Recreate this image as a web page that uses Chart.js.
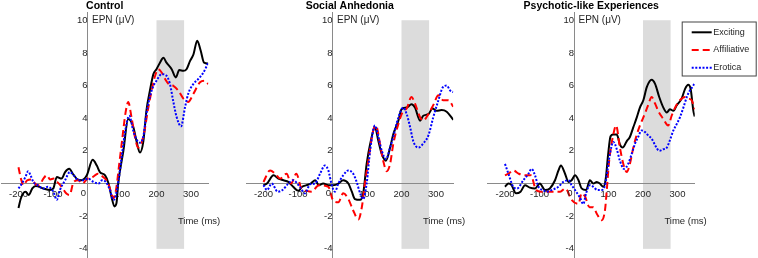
<!DOCTYPE html>
<html><head><meta charset="utf-8">
<script src="https://cdn.jsdelivr.net/npm/chart.js@4.4.1/dist/chart.umd.min.js"></script>
<style>
html,body{margin:0;padding:0;background:#fff;width:758px;height:258px;overflow:hidden}
body{position:relative}
canvas{position:absolute;top:0}
</style></head><body>
<canvas id="c1" width="245" height="258" style="left:0px"></canvas>
<canvas id="c2" width="242" height="258" style="left:245px"></canvas>
<canvas id="c3" width="271" height="258" style="left:487px"></canvas>
<script>
const panelTitles = ['Control', 'Social Anhedonia', 'Psychotic-like Experiences'];
const seriesNames = ['Exciting', 'Affiliative', 'Erotica'];
const xTicks = [-200, -100, 0, 100, 200, 300];
const yTicks = [-4, -2, 0, 2, 4, 6, 8, 10];
const windowMs = [200, 280];
const windowUv = [-4, 10];
const yLabel = 'EPN (μV)';
const xLabel = 'Time (ms)';

// ---- Control ----
const ctrlExcT = [-200,-193,-180,-170,-160,-150,-128,-109,-99,-89,-75,-65,-53,-41,-29,-17,-2,15,27,36,51,61,70,78,84,89,104,118,133,142,152,162,171,181,191,200,210,220,229,244,256,266,278,287,297,307,318,328,338,350];
const ctrlExcV = [-1.5,-0.9,-0.5,-0.7,-0.3,-0.15,-0.3,-0.4,-0.3,0.4,0.3,0.7,0.9,0.55,0.25,0.2,0.5,1.45,1.1,0.7,0.5,0,-0.85,-1.4,-1.2,0,2,3.95,3.45,2.6,1.9,2.6,4.5,5.7,6.7,7.0,7.4,7.7,7.4,7.0,6.5,6.95,6.9,7.0,7.5,7.9,8.75,8.15,7.4,7.35];
const ctrlAffT = [-200,-193,-186,-175,-162,-150,-140,-128,-118,-108,-98,-88,-75,-62,-52,-40,-27,-15,0,15,30,45,58,68,76,84,92,100,110,118,128,138,147,155,165,175,186,196,205,215,225,235,248,263,278,292,307,326,340,350];
const ctrlAffV = [1.0,0.3,-0.1,0.2,0.25,-0.05,-0.1,0.3,0.5,0.25,0.3,0.1,-0.2,-0.6,-0.7,0.1,0.2,0.0,0.3,0.4,0.6,0.4,0.1,-0.5,-0.9,-0.2,1.2,2.6,4.3,5.0,4.0,2.8,2.2,2.4,3.2,4.5,5.7,6.6,7.0,6.8,6.4,6.1,6.0,5.7,5.2,5.0,5.5,6.2,6.3,6.1];
const ctrlEroT = [-200,-190,-180,-172,-165,-157,-145,-128,-115,-99,-89,-80,-65,-51,-40,-26,-12,2,17,32,42,53,65,75,80,90,100,110,121,133,142,152,162,171,186,200,215,229,239,248,258,271,283,292,307,321,336,350];
const ctrlEroV = [-0.3,0.0,0.4,0.75,0.5,0.1,-0.1,-0.3,-0.2,-0.5,-1.0,-0.4,0.2,0.7,0.5,0.2,0.2,0.3,0.1,0.0,0.2,0.1,-0.4,-1.0,-0.9,0.2,1.8,3.3,4.15,3.2,2.7,2.5,2.9,4.3,5.7,6.3,6.7,6.6,6.1,5.1,4.1,3.5,4.7,5.5,6.1,6.4,6.8,7.4];

// ---- Social Anhedonia ----
const saExcT = [-200,-190,-171,-157,-142,-128,-114,-99,-88,-75,-63,-50,-40,-27,-12,2,17,31,46,56,65,80,89,99,109,123,133,143,155,167,176,191,200,215,229,239,254,263,278,290,302,316,331,345,350];
const saExcV = [-0.1,0.0,0.5,0.3,0.2,0.1,-0.2,-0.45,-0.2,-0.1,0.0,0.2,-0.1,0.0,-0.1,-0.1,0.0,0.2,0.0,-0.5,-0.95,-1.0,-0.6,1.2,2.4,3.45,2.6,1.8,1.4,2.2,3.0,3.85,4.55,4.65,4.85,4.65,3.85,4.15,4.25,4.6,4.45,4.5,4.4,4.05,3.9];
const saAffT = [-200,-181,-166,-152,-133,-120,-105,-90,-75,-60,-40,-12,2,17,31,46,60,75,85,94,104,118,126,138,147,157,167,176,191,205,215,229,239,254,263,278,292,307,321,336,350];
const saAffV = [0.1,0.8,0.6,0.3,0.6,0.0,0.6,-0.3,-0.45,-0.5,-0.1,-0.2,-1.05,-1.15,-0.6,-0.95,-1.65,-2.2,-1.45,0.0,1.4,3.25,3.55,2.4,1.4,0.75,1.2,2.4,3.65,4.45,4.6,5.3,4.9,4.05,3.85,4.25,4.8,5.4,5.1,5.1,4.7];
const saEroT = [-200,-190,-176,-159,-145,-128,-114,-95,-80,-65,-51,-36,-22,-12,-2,7,17,31,46,60,70,80,89,99,109,123,133,143,155,167,176,191,205,215,225,234,249,263,278,292,307,320,331,341,350];
const saEroV = [-0.1,-0.4,0.0,-0.5,-0.4,0.0,0.2,-0.2,-0.6,-0.05,0.0,0.6,1.1,0.8,-0.1,-0.5,0.0,0.5,0.8,0.6,0.1,-0.6,-0.95,0.0,2.0,3.55,2.85,2.0,1.5,2.2,2.85,4.05,4.65,4.25,3.45,2.6,2.2,2.45,2.95,4.05,5.1,5.9,6.0,5.7,5.6];

// ---- Psychotic-like Experiences ----
const pleExcT = [-200,-190,-181,-168,-155,-142,-128,-113,-99,-84,-70,-55,-45,-38,-26,-16,-7,3,13,22,35,46,56,66,75,85,92,99,106,114,124,133,141,153,162,172,182,191,201,211,225,235,247,259,269,278,288,298,312,322,331,338,346,350];
const pleExcV = [-0.2,0.0,-0.1,-0.6,-0.5,-0.1,-0.25,-0.3,0.0,-0.4,-0.3,0.2,0.8,1.1,0.6,0.1,0.2,0.5,0.2,-0.3,-0.4,0.2,0.0,0.1,0.0,-0.2,0.3,1.8,2.9,3.0,3.0,2.4,2.2,2.6,2.85,3.45,4.05,4.65,5.1,5.9,6.35,6.1,5.3,4.65,4.35,4.55,4.45,4.8,5.2,5.8,6.05,5.8,4.45,4.1];
const pleAffT = [-200,-190,-176,-160,-140,-125,-110,-95,-75,-55,-40,-25,-7,13,22,32,45,56,66,80,90,95,102,114,122,133,143,153,162,172,182,191,201,215,225,235,244,259,273,283,293,307,322,331,341,350];
const pleAffV = [0.5,0.6,0.8,0.6,0.5,0.5,-0.4,-0.5,-0.5,-0.5,-0.5,-0.3,-1.0,-1.25,-0.6,-0.8,-1.45,-1.45,-1.85,-2.25,-1.6,-0.4,1.4,3.0,3.55,2.2,1.2,0.7,1.2,2.2,3.0,3.55,4.05,4.8,5.3,4.9,4.45,3.95,3.55,4.15,4.65,5.1,5.3,5.2,5.1,4.55];
const pleEroT = [-200,-190,-176,-165,-147,-132,-123,-113,-103,-90,-79,-65,-45,-31,-16,-7,3,17,27,35,46,56,68,80,90,97,104,114,124,133,145,157,167,177,186,196,206,215,225,235,247,259,269,278,288,298,307,317,327,336,346,350];
const pleEroV = [1.2,0.6,-0.2,-0.3,0.2,0.6,0.9,0.5,-0.2,-0.4,-0.5,-0.4,-0.2,0.1,0.2,-0.1,-0.4,-0.85,-1.25,-0.6,-0.1,-0.2,-0.4,-0.4,-0.1,0.8,1.8,2.55,2.1,1.4,0.9,1.2,1.8,2.45,2.85,3.25,3.15,2.95,2.75,2.35,2.0,2.1,2.2,2.65,3.25,3.65,4.05,4.65,5.3,5.7,6.0,6.2];

const panels = [
  [[ctrlExcT, ctrlExcV], [ctrlAffT, ctrlAffV], [ctrlEroT, ctrlEroV]],
  [[saExcT, saExcV], [saAffT, saAffV], [saEroT, saEroV]],
  [[pleExcT, pleExcV], [pleAffT, pleAffV], [pleEroT, pleEroV]]
];

const FONT = '"Liberation Sans", Arial, Helvetica, sans-serif';
const TXT = '#262626';
const lineStyles = [
  {color: '#000000', dash: []},
  {color: '#ff0000', dash: [7, 4]},
  {color: '#0000ff', dash: [2, 1.6]}
];
const paddings = [
  {left: 1.25, right: 36.75, top: 0, bottom: 1},
  {left: 1.25, right: 33.75, top: 0, bottom: 1},
  {left: 0.75, right: 63.25, top: 0, bottom: 1}
];

const shadePlugin = {
  id: 'shade',
  beforeDraw(chart) {
    const {x, y} = chart.scales;
    const ctx = chart.ctx;
    const x0 = x.getPixelForValue(windowMs[0]), x1 = x.getPixelForValue(windowMs[1]);
    const y0 = y.getPixelForValue(windowUv[1]), y1 = y.getPixelForValue(windowUv[0]);
    ctx.save();
    ctx.fillStyle = '#dcdcdc';
    ctx.fillRect(x0, y0, x1 - x0, y1 - y0);
    ctx.restore();
  }
};

const textPlugin = {
  id: 'texts',
  afterDraw(chart) {
    const {x, y} = chart.scales;
    const ctx = chart.ctx;
    ctx.save();
    ctx.fillStyle = TXT;
    ctx.textBaseline = 'middle';
    ctx.textAlign = 'left';
    ctx.font = '10px ' + FONT;
    ctx.fillText(yLabel, x.getPixelForValue(0) + 4.5, y.getPixelForValue(10));
    ctx.font = '9.5px ' + FONT;
    ctx.fillText(xLabel, x.getPixelForValue(262), y.getPixelForValue(-2.3));
    // origin "0" label, offset left of the y axis like the original
    ctx.textAlign = 'center';
    ctx.textBaseline = 'top';
    ctx.font = '9.5px ' + FONT;
    ctx.fillText('0', x.getPixelForValue(0) - 4, y.getPixelForValue(0) + 5);
    ctx.restore();
  }
};

const legendPlugin = {
  id: 'boxLegend',
  afterDraw(chart) {
    const ctx = chart.ctx;
    const bx = 194.7, by = 21.5, bw = 75, bh = 55;
    ctx.save();
    ctx.fillStyle = '#ffffff';
    ctx.fillRect(bx, by, bw, bh);
    ctx.strokeStyle = '#444';
    ctx.lineWidth = 1;
    ctx.strokeRect(bx + 0.5, by + 0.5, bw - 1, bh - 1);
    const rows = [32.3, 50, 67.7];
    chart.data.datasets.forEach((ds, i) => {
      ctx.strokeStyle = ds.borderColor;
      ctx.lineWidth = 2;
      ctx.setLineDash(ds.borderDash || []);
      ctx.beginPath();
      ctx.moveTo(204.7, rows[i]);
      ctx.lineTo(224.7, rows[i]);
      ctx.stroke();
      ctx.setLineDash([]);
      ctx.fillStyle = TXT;
      ctx.font = '9px ' + FONT;
      ctx.textBaseline = 'middle';
      ctx.textAlign = 'left';
      ctx.fillText(ds.label, 226.3, rows[i]);
    });
    ctx.restore();
  }
};

panels.forEach((series, p) => {
  const datasets = series.map(([ts, vs], i) => ({
    label: seriesNames[i],
    data: ts.map((t, k) => ({x: t, y: vs[k]})),
    borderColor: lineStyles[i].color,
    borderDash: lineStyles[i].dash,
    borderWidth: 2,
    borderCapStyle: 'butt',
    pointRadius: 0,
    fill: false,
    cubicInterpolationMode: 'monotone',
    order: 3 - i
  }));
  const plugins = [shadePlugin, textPlugin];
  if (p === 2) plugins.push(legendPlugin);
  new Chart(document.getElementById('c' + (p + 1)), {
    type: 'line',
    data: {datasets},
    plugins,
    options: {
      responsive: false,
      animation: false,
      devicePixelRatio: 1,
      layout: {padding: paddings[p]},
      plugins: {
        legend: {display: false},
        tooltip: {enabled: false},
        title: {
          display: true,
          text: panelTitles[p],
          fullSize: false,
          color: '#000',
          font: {family: FONT, size: 10.5, weight: 'bold', lineHeight: 1.15},
          padding: {top: 0, bottom: 0}
        }
      },
      scales: {
        x: {
          type: 'linear',
          min: -250, max: 350,
          position: {y: 0},
          afterBuildTicks: s => { s.ticks = xTicks.map(v => ({value: v})); },
          afterFit: s => { s.paddingLeft = 0; s.paddingRight = 0; },
          grid: {display: true, drawOnChartArea: false, drawTicks: false},
          border: {display: true, color: '#8a8a8a', width: 1},
          ticks: {
            autoSkip: false, maxRotation: 0, padding: 5, color: TXT,
            font: {family: FONT, size: 9.5},
            callback: v => (v === 0 ? '' : String(v))
          }
        },
        y: {
          type: 'linear',
          min: -4.5, max: 10.5,
          position: {x: 0},
          afterBuildTicks: s => { s.ticks = yTicks.map(v => ({value: v})); },
          afterFit: s => { s.paddingTop = 0; s.paddingBottom = 0; },
          grid: {display: true, drawOnChartArea: false, drawTicks: false},
          border: {display: true, color: '#8a8a8a', width: 1},
          ticks: {
            autoSkip: false, padding: 3, color: TXT,
            font: {family: FONT, size: 9.5},
            callback: v => (v === 0 ? '' : String(v))
          }
        }
      }
    }
  });
});
</script>
</body></html>
